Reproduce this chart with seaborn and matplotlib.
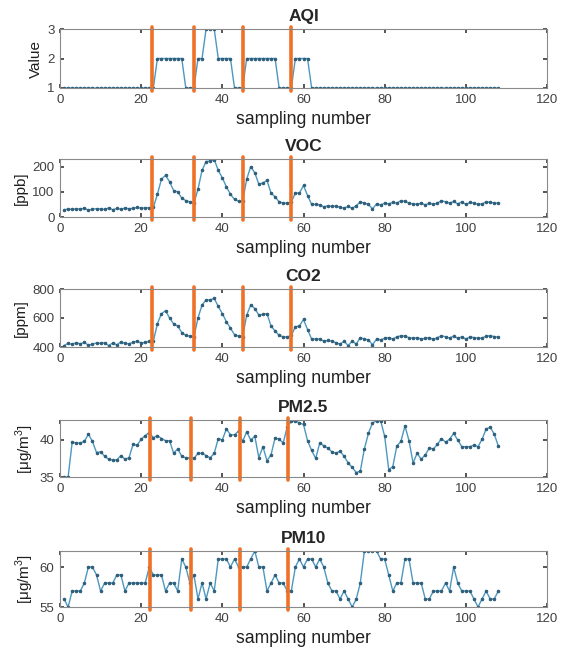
import numpy as np
import pandas as pd
import matplotlib
matplotlib.use("Agg")
import matplotlib.pyplot as plt
import seaborn as sns

# ---------------- data ----------------
sample = list(range(1, 109))

aqi = [1]*23 + [2]*7 + [1]*3 + [2, 2, 3, 3, 3, 2, 2, 2, 2, 1, 1, 1] + [2]*8 + [1]*4 + [2]*4 + [1]*47

voc = [28, 32, 30, 33, 31, 35, 27, 31, 33, 32, 30, 36, 29, 34, 31, 35, 33, 34, 38, 35, 36, 37,
       38, 90, 150, 165, 140, 105, 100, 75, 65, 60, 55, 110, 185, 220, 222, 228, 185, 155,
       120, 90, 70, 62, 62, 150, 200, 175, 130, 135, 145, 95, 80, 60, 55, 55, 60, 95, 95, 125,
       85, 50, 50, 48, 40, 45, 42, 44, 38, 35, 42, 34, 45, 60, 55, 50, 32, 52, 48, 55, 52, 58,
       55, 65, 62, 55, 52, 50, 55, 48, 55, 50, 55, 65, 60, 55, 62, 52, 60, 50, 58, 55, 50, 52,
       60, 58, 56, 55]

co2 = [410, 425, 418, 430, 422, 432, 412, 420, 428, 425, 430, 410, 428, 415, 435, 425, 422, 432, 440, 428, 432, 438,
       440, 560, 630, 650, 600, 560, 545, 500, 480, 475, 470, 600, 690, 725, 725, 735, 680, 630,
       575, 530, 485, 475, 470, 620, 690, 665, 620, 625, 630, 545, 510, 480, 470, 470, 480, 540,
       545, 590, 520, 455, 455, 455, 440, 445, 440, 430, 420, 440, 410, 440, 420, 465, 455, 450,
       415, 455, 450, 460, 465, 455, 470, 478, 475, 465, 460, 465, 455, 460, 465, 452, 465, 478,
       470, 462, 475, 460, 470, 455, 470, 465, 460, 462, 475, 478, 472, 468]

pm25 = [35.0, 35.0, 39.7, 39.6, 39.6, 39.8, 40.8, 39.8, 38.3, 38.4, 37.8, 37.4, 37.3, 37.3, 37.9, 37.4,
        37.6, 39.4, 39.3, 40.1, 40.6, 41.0, 40.3, 40.6, 40.2, 39.9, 39.9, 38.2, 38.8, 37.8, 37.6, 37.6,
        37.5, 38.2, 38.2, 37.9, 37.6, 38.2, 40.2, 40.0, 41.5, 40.7, 40.7, 41.2, 39.8, 41.1, 40.0, 40.5,
        37.6, 39.1, 37.2, 38.0, 40.3, 40.1, 39.6, 41.8, 42.5, 42.6, 42.3, 42.1, 39.9, 38.6, 37.5, 39.6,
        39.2, 38.9, 38.4, 38.2, 38.5, 37.8, 36.9, 36.3, 35.6, 35.8, 38.8, 40.9, 42.3, 42.6, 42.6, 40.5,
        36.0, 36.4, 39.2, 39.8, 41.9, 39.9, 36.9, 38.2, 37.4, 38.0, 38.9, 38.8, 39.4, 40.2, 39.7, 40.1,
        40.9, 40.0, 39.1, 39.1, 39.1, 39.3, 39.1, 40.1, 41.5, 41.7, 40.8, 39.2]

pm10 = [56, 55, 57, 57, 57, 58, 60, 60, 59, 57, 58, 58, 58, 59, 59, 57, 58, 58, 58, 58, 58, 60,
        59, 59, 59, 57, 58, 58, 57, 61, 60, 58, 59, 56, 58, 56, 58, 57, 61, 61, 61, 60, 61, 60,
        60, 60, 61, 62, 60, 60, 57, 58, 59, 58, 58, 57, 57, 60, 61, 60, 61, 61, 60, 61, 60, 58,
        57, 57, 56, 57, 56, 55, 56, 58, 62, 62, 62, 62, 61, 61, 59, 57, 58, 58, 61, 61, 58, 58,
        58, 56, 56, 57, 57, 57, 58, 57, 60, 58, 57, 57, 57, 56, 55, 56, 57, 56, 56, 57]

titles = ["AQI", "VOC", "CO2", "PM2.5", "PM10"]
ylabels = ["Value", "[ppb]", "[ppm]", "[\u03bcg/m$^3$]", "[\u03bcg/m$^3$]"]
series = [aqi, voc, co2, pm25, pm10]
ylims = [(1, 3), (0, 230), (400, 800), (35, 42.7), (55, 62)]
yticks = [[1, 2, 3], [0, 100, 200], [400, 600, 800], [35, 40], [55, 60]]
event_top = [22.7, 33.1, 45.0, 56.9]
event_bottom = [22.2, 32.4, 44.4, 56.2]
xticks = [0, 20, 40, 60, 80, 100, 120]

# ---------------- style ----------------
sns.set_theme(style="white")
plt.rcParams['font.family'] = ['Liberation Sans', 'DejaVu Sans']
plt.rcParams['mathtext.fontset'] = 'custom'
plt.rcParams['mathtext.rm'] = 'Liberation Sans'

fig = plt.figure(figsize=(5.7, 6.57), dpi=100)
W, H = 570, 657
boxes = [(29, 88), (159, 217), (289, 347), (420, 477), (551, 607)]
left, right = 60, 547

line_c = "#4d98c0"
mark_c = "#2e5d78"
orange = "#f07126"

for i in range(5):
    top, bot = boxes[i]
    ax = fig.add_axes([left / W, 1 - bot / H, (right - left) / W, (bot - top) / H])
    df = pd.DataFrame({"n": sample, "v": series[i]})
    sns.lineplot(data=df, x="n", y="v", ax=ax, color=line_c, lw=1.0,
                 marker="o", markersize=1.8, markerfacecolor=mark_c,
                 markeredgecolor=mark_c)
    ax.set_xlim(0, 120)
    ax.set_ylim(*ylims[i])
    ax.set_xticks(xticks)
    ax.set_yticks(yticks[i])
    ax.tick_params(direction="in", length=3, labelsize=9.5, colors="#404040",
                   top=True, right=True, bottom=True, left=True, pad=4)
    for s in ax.spines.values():
        s.set_color("#8a8a8a")
        s.set_linewidth(0.8)
    ax.set_title(titles[i], fontsize=12.5, fontweight="bold", pad=6)
    ax.set_xlabel("sampling number", fontsize=12.7, color="#202020", labelpad=4)
    ax.set_ylabel(ylabels[i], fontsize=11, color="#202020", labelpad=3)
    evs = event_top if i < 3 else event_bottom
    for xv in evs:
        ax.axvline(xv, ymin=-0.05, ymax=1.03, color=orange, lw=2.6, clip_on=False)

fig.savefig("out.png", dpi=100)
